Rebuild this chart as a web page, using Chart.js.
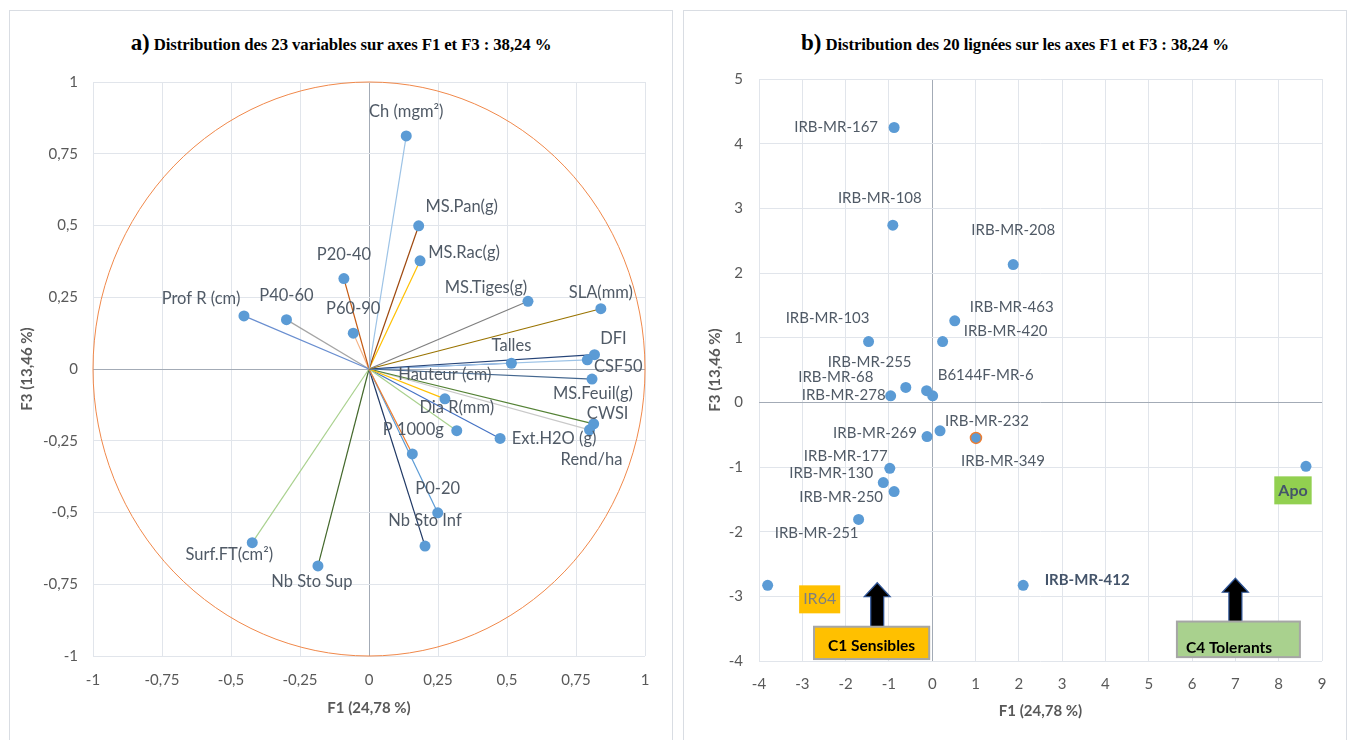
<!DOCTYPE html>
<html>
<head>
<meta charset="utf-8">
<script src="https://cdn.jsdelivr.net/npm/chart.js@4.4.1/dist/chart.umd.min.js"></script>
<style>
  body { margin: 0; background: #fff; width: 1352px; height: 740px; overflow: hidden; position: relative; }
  .panel { position: absolute; top: 10px; width: 664px; height: 760px; border: 1px solid #d9dde3; box-sizing: border-box; }
  #panelA { left: 9px; }
  #panelB { left: 683px; }
  .titre { position: absolute; top: 30px; width: 664px; text-align: center; font-family: 'Liberation Serif', serif; font-weight: bold; font-size: 16.8px; color: #000; line-height: 26px; letter-spacing: -0.1px; }
  .titre span { font-size: 23px; }
  canvas { position: absolute; top: 10px; }
  #chartA { left: 9px; }
  #chartB { left: 683px; }
</style>
</head>
<body>
<div class="panel" id="panelA"></div>
<div class="panel" id="panelB"></div>
<div class="titre" style="left:9px"><span>a)</span> Distribution des 23 variables sur axes F1 et F3 : 38,24 %</div>
<div class="titre" style="left:683px"><span>b)</span> Distribution des 20 lignées sur les axes F1 et F3 : 38,24 %</div>
<canvas id="chartA" width="663" height="725"></canvas>
<canvas id="chartB" width="663" height="725"></canvas>

<script>
// --- données : cercle des corrélations (a) ---
const variables = ['Ch (mgm²)', 'MS.Pan(g)', 'MS.Rac(g)', 'P20-40', 'Prof R (cm)', 'P40-60', 'P60-90',
  'MS.Tiges(g)', 'SLA(mm)', 'DFI', 'CSF50', 'Talles', 'MS.Feuil(g)', 'Hauteur (cm)', 'Dia R(mm)',
  'Ext.H2O (g)', 'CWSI', 'Rend/ha', 'P 1000g', 'P0-20', 'Nb Sto Inf', 'Surf.FT(cm²)', 'Nb Sto Sup'];
const varF1 = [0.135, 0.180, 0.185, -0.091, -0.453, -0.299, -0.057,
  0.576, 0.840, 0.817, 0.791, 0.516, 0.808, 0.275, 0.318,
  0.475, 0.814, 0.799, 0.157, 0.249, 0.203, -0.423, -0.185];
const varF3 = [0.812, 0.499, 0.377, 0.315, 0.185, 0.172, 0.125,
  0.236, 0.210, 0.050, 0.032, 0.020, -0.035, -0.104, -0.215,
  -0.242, -0.191, -0.212, -0.296, -0.501, -0.617, -0.605, -0.686];

// --- données : individus (b) ---
const lignees = ['IRB-MR-167', 'IRB-MR-108', 'IRB-MR-208', 'IRB-MR-463', 'IRB-MR-103', 'IRB-MR-420',
  'IRB-MR-255', 'IRB-MR-68', 'IRB-MR-278', 'B6144F-MR-6', 'IRB-MR-232', 'IRB-MR-269', 'IRB-MR-349',
  'IRB-MR-177', 'IRB-MR-130', 'IRB-MR-250', 'IRB-MR-251', 'IR64', 'IRB-MR-412', 'Apo'];
const ligF1 = [-0.88, -0.91, 1.87, 0.52, -1.47, 0.24,
  -0.13, -0.61, -0.96, 0.01, 0.18, -0.12, 1.01,
  -0.98, -1.13, -0.88, -1.70, -3.80, 2.10, 8.63];
const ligF3 = [4.25, 2.74, 2.13, 1.26, 0.94, 0.94,
  0.18, 0.23, 0.10, 0.10, -0.44, -0.53, -0.55,
  -1.02, -1.24, -1.38, -1.81, -2.83, -2.83, -0.99];

// graduations
const ticksA = [-1, -0.75, -0.5, -0.25, 0, 0.25, 0.5, 0.75, 1];
const ticksALabels = ['-1', '-0,75', '-0,5', '-0,25', '0', '0,25', '0,5', '0,75', '1'];
const ticksBx = [-4, -3, -2, -1, 0, 1, 2, 3, 4, 5, 6, 7, 8, 9];
const ticksBy = [-4, -3, -2, -1, 0, 1, 2, 3, 4, 5];

// styles (couleurs des vecteurs, position des étiquettes)
const rayColors = ['#9dc3e6', '#9e480e', '#ffc000', '#c55a11', '#698ed0', '#a5a5a5', '#f4b183',
  '#7f7f7f', '#997300', '#264478', '#9dc3e6', '#4472c4', '#44678f', '#ffc000', '#a9d18e',
  '#4472c4', '#548235', '#c9c9c9', '#ed7d31', '#5b9bd5', '#1f3864', '#a9d18e', '#43682b'];
const labelOffsetsA = [[0,-24],[43,-19],[44,-8],[0,-24],[-43,-17],[0,-24],[0,-24],
  [-42,-14],[0,-16],[19,-16],[31,7],[0,-18],[1,15],[0,-24],[0,-23],
  [54,0],[14,-10],[2,30],[1,-24],[0,-24],[0,-25],[-23,12],[-6,16]];
const labelOffsetsB = [[-58,0],[-13,-27],[0,-34],[57,-14],[-41,-23],[63,-10],
  [-57,-29],[-70,-10],[-47,-1],[53,-21],[47,-10],[-52,-3],[27,23],
  [-44,-12],[-52,-9],[-53,6],[-42,14],[52,14],[64,-5],[-13,24]];

Chart.defaults.font.family = 'Lato';
const GRID = '#e1e5eb', AXE = '#a3abb6', TXT = '#595959', LBL = '#505a66';

function gridColor(ctx) { return ctx.tick && ctx.tick.value === 0 ? AXE : GRID; }

// étiquettes des points
const pointLabels = {
  id: 'pointLabels',
  afterDatasetsDraw(chart, args, opts) {
    const ctx = chart.ctx, xs = chart.scales.x, ys = chart.scales.y;
    const size = opts.size || 15;
    ctx.save();
    ctx.textAlign = 'center';
    ctx.textBaseline = 'middle';
    opts.names.forEach((name, i) => {
      const px = xs.getPixelForValue(opts.xs[i]) + opts.offsets[i][0];
      const py = ys.getPixelForValue(opts.ys[i]) + opts.offsets[i][1];
      const box = opts.boxes && opts.boxes[name];
      const bold = (box && box.bold) || opts.bold === name;
      ctx.font = (bold ? 'bold ' : '') + (box ? size + 1 : size) + 'px Lato';
      if (box) {
        const w = ctx.measureText(name).width + 8;
        ctx.fillStyle = box.fill;
        ctx.fillRect(px - w / 2, py - 14, w, 28);
        ctx.fillStyle = box.color;
      } else {
        ctx.fillStyle = opts.bold === name ? '#44546a' : LBL;
      }
      ctx.fillText(name, px, py);
    });
    ctx.restore();
  }
};

// cercle unité (a)
const cercle = {
  id: 'cercle',
  beforeDatasetsDraw(chart) {
    if (!chart.options.plugins.cercle) return;
    const ctx = chart.ctx, xs = chart.scales.x, ys = chart.scales.y;
    const cx = xs.getPixelForValue(0), cy = ys.getPixelForValue(0);
    ctx.save();
    ctx.strokeStyle = '#f0884a';
    ctx.lineWidth = 1;
    ctx.beginPath();
    ctx.ellipse(cx, cy, xs.getPixelForValue(1) - cx, cy - ys.getPixelForValue(1), 0, 0, Math.PI * 2);
    ctx.stroke();
    ctx.restore();
  }
};

// cadres de groupes + flèches (b)
const groupes = {
  id: 'groupes',
  afterDatasetsDraw(chart, args, opts) {
    if (!opts.items) return;
    const ctx = chart.ctx, xs = chart.scales.x, ys = chart.scales.y;
    ctx.save();
    opts.items.forEach(g => {
      const x1 = xs.getPixelForValue(g.box[0]), x2 = xs.getPixelForValue(g.box[1]);
      const y1 = ys.getPixelForValue(g.box[2]), y2 = ys.getPixelForValue(g.box[3]);
      // flèche
      const ax = xs.getPixelForValue(g.arrowX), tip = ys.getPixelForValue(g.arrowTip);
      ctx.beginPath();
      ctx.moveTo(ax, tip);
      ctx.lineTo(ax + 13, tip + 14);
      ctx.lineTo(ax + 6.5, tip + 14);
      ctx.lineTo(ax + 6.5, y1);
      ctx.lineTo(ax - 6.5, y1);
      ctx.lineTo(ax - 6.5, tip + 14);
      ctx.lineTo(ax - 13, tip + 14);
      ctx.closePath();
      ctx.fillStyle = '#000';
      ctx.fill();
      ctx.strokeStyle = '#2f5597';
      ctx.lineWidth = 1.2;
      ctx.stroke();
      // cadre
      ctx.fillStyle = g.fill;
      ctx.fillRect(x1, y1, x2 - x1, y2 - y1);
      ctx.strokeStyle = '#a6a6a6';
      ctx.lineWidth = 2;
      ctx.strokeRect(x1, y1, x2 - x1, y2 - y1);
      ctx.fillStyle = '#000';
      ctx.font = 'bold 15.5px Lato';
      ctx.textAlign = g.align;
      ctx.textBaseline = 'middle';
      ctx.fillText(g.text, g.align === 'center' ? (x1 + x2) / 2 : x1 + 9, y1 + g.textY);
    });
    ctx.restore();
  }
};

function axis(min, max, values, labels, fitSize, tickPad, title, titlePad, horizontal) {
  return {
    type: 'linear', min: min, max: max,
    afterBuildTicks: s => { s.ticks = values.map(v => ({ value: v })); },
    afterFit: s => { if (horizontal) s.height = fitSize; else s.width = fitSize; },
    ticks: { callback: (v, i) => labels[i], color: TXT, font: { size: 15 }, padding: tickPad },
    grid: { color: gridColor, drawTicks: false, lineWidth: 1 },
    border: { display: false },
    title: { display: true, text: title, color: TXT, font: { size: 15, weight: 'bold' },
      padding: horizontal ? { bottom: titlePad } : { top: titlePad } }
  };
}

// graphique a)
const rays = variables.map((v, i) => ({
  label: v,
  data: [{ x: 0, y: 0 }, { x: varF1[i], y: varF3[i] }],
  showLine: true, borderColor: rayColors[i], borderWidth: 1.2, pointRadius: 0
}));
new Chart(document.getElementById('chartA'), {
  type: 'scatter',
  data: {
    datasets: [{
      label: 'variables',
      data: varF1.map((x, i) => ({ x: x, y: varF3[i] })),
      pointRadius: 5.5, backgroundColor: '#5b9bd5', borderColor: '#5b9bd5', borderWidth: 0
    }].concat(rays)
  },
  options: {
    responsive: false, animation: false,
    layout: { padding: { left: 0, right: 27, top: 72, bottom: 0 } },
    plugins: {
      legend: { display: false }, tooltip: { enabled: false },
      cercle: true,
      pointLabels: { names: variables, xs: varF1, ys: varF3, offsets: labelOffsetsA, size: 16.5 }
    },
    scales: {
      x: axis(-1, 1, ticksA, ticksALabels, 79, 15, 'F1 (24,78 %)', 18, true),
      y: axis(-1, 1, ticksA, ticksALabels, 84, 15, 'F3 (13,46 %)', 9, false)
    }
  },
  plugins: [cercle, pointLabels]
});

// graphique b)
new Chart(document.getElementById('chartB'), {
  type: 'scatter',
  data: {
    datasets: [{
      label: 'lignées',
      data: ligF1.map((x, i) => ({ x: x, y: ligF3[i] })),
      pointRadius: 5.5, backgroundColor: '#5b9bd5',
      borderColor: lignees.map(n => n === 'IRB-MR-349' ? '#ed7d31' : '#5b9bd5'),
      borderWidth: lignees.map(n => n === 'IRB-MR-349' ? 1.5 : 0)
    }]
  },
  options: {
    responsive: false, animation: false,
    layout: { padding: { left: 0, right: 24, top: 69, bottom: 0 } },
    plugins: {
      legend: { display: false }, tooltip: { enabled: false },
      pointLabels: {
        names: lignees, xs: ligF1, ys: ligF3, offsets: labelOffsetsB, bold: 'IRB-MR-412', size: 15,
        boxes: { 'IR64': { fill: '#ffc000', color: '#7f7f7f' }, 'Apo': { fill: '#92d050', color: '#44546a', bold: true } }
      },
      groupes: {
        items: [
          { text: 'C1 Sensibles', box: [-2.73, -0.07, -3.47, -3.97], fill: '#ffc000', arrowX: -1.27, arrowTip: -2.79, align: 'center', textY: 19 },
          { text: 'C4 Tolerants', box: [5.65, 8.49, -3.39, -3.94], fill: '#a9d18e', arrowX: 7.0, arrowTip: -2.72, align: 'left', textY: 26 }
        ]
      }
    },
    scales: {
      x: axis(-4, 9, ticksBx, ticksBx.map(String), 74, 14, 'F1 (24,78 %)', 14.5, true),
      y: axis(-4, 5, ticksBy, ticksBy.map(String), 76, 16, 'F3 (13,46 %)', 23, false)
    }
  },
  plugins: [pointLabels, groupes]
});
</script>
</body>
</html>
